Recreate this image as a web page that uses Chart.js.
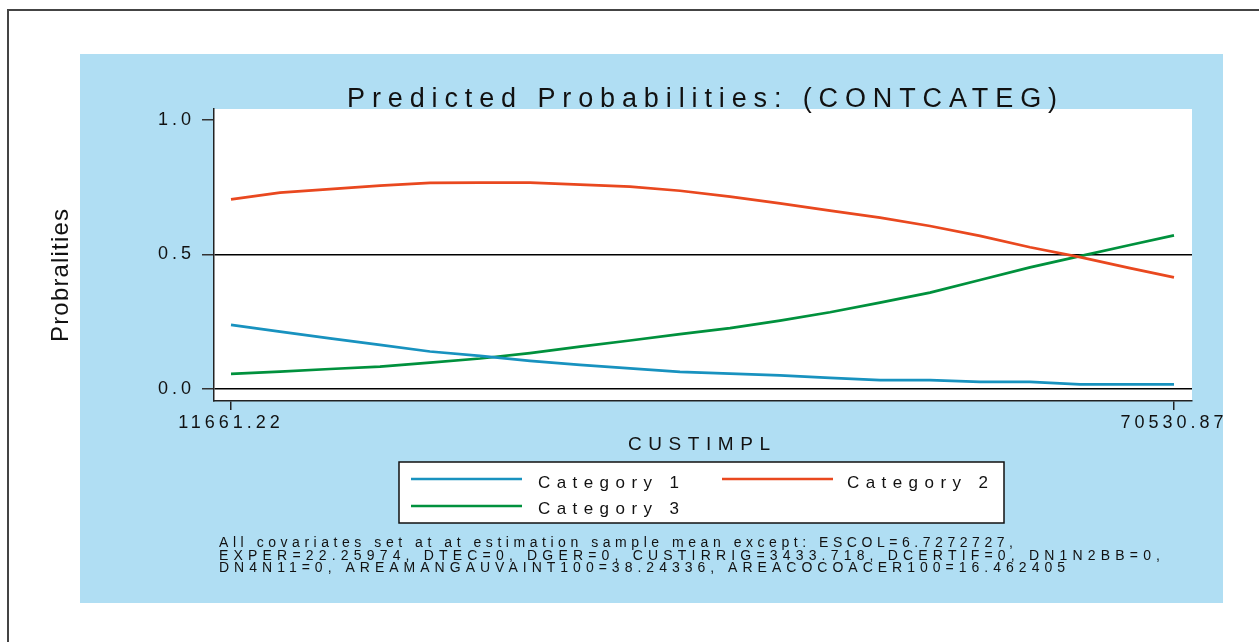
<!DOCTYPE html>
<html>
<head>
<meta charset="utf-8">
<script src="https://cdn.jsdelivr.net/npm/chart.js@4.4.1/dist/chart.umd.min.js"></script>
<style>
  html, body { margin: 0; padding: 0; background: #fff; overflow: hidden; }
</style>
</head>
<body>
<canvas id="chart" width="1259" height="642"></canvas>
<script>
// values
const custimpl = [11661.22, 14720, 17841, 20963, 24085, 27206, 30327, 33448, 36570, 39691,
                  42813, 45934, 49055, 52177, 55298, 58420, 61541, 64662, 67784, 70530.87];
const cat1 = [0.238, 0.213, 0.188, 0.164, 0.139, 0.123, 0.104, 0.089, 0.076, 0.063,
              0.057, 0.050, 0.041, 0.033, 0.033, 0.026, 0.026, 0.017, 0.017, 0.017];
const cat2 = [0.705, 0.730, 0.743, 0.756, 0.766, 0.767, 0.767, 0.760, 0.752, 0.737,
              0.715, 0.690, 0.663, 0.637, 0.606, 0.569, 0.527, 0.490, 0.449, 0.415];
const cat3 = [0.056, 0.064, 0.074, 0.083, 0.098, 0.113, 0.133, 0.157, 0.180, 0.204,
              0.226, 0.254, 0.285, 0.321, 0.358, 0.405, 0.452, 0.494, 0.535, 0.571];

const seriesNames = ["Category 1", "Category 2", "Category 3"];
const seriesColors = ["#1892bf", "#e9481f", "#00913d"];
const yTicks = [0, 0.5, 1];
const yTickLabels = ["0.0", "0.5", "1.0"];
const xTicks = [11661.22, 70530.87];
const xTickLabels = ["11661.22", "70530.87"];

const titleText = "Predicted Probabilities: (CONTCATEG)";
const xTitle = "CUSTIMPL";
const yTitle = "Probralities";
const noteLines = [
    "All covariates set at at estimation sample mean except: ESCOL=6.7272727,",
    "EXPER=22.25974, DTEC=0, DGER=0, CUSTIRRIG=3433.718, DCERTIF=0, DN1N2BB=0,",
    "DN4N11=0, AREAMANGAUVAINT100=38.24336, AREACOCOACER100=16.462405"
];

const NARROW = "'Liberation Sans Narrow', 'Liberation Sans', Arial, sans-serif";
const FONT = "'Liberation Sans', Arial, sans-serif";
const PANEL = "#b0def3";

// draw text stretched by letter spacing so it covers a given width
function spacedText(ctx, text, x, y, width) {
    ctx.letterSpacing = "0px";
    const w0 = ctx.measureText(text).width;
    const sp = (width - w0) / (text.length - 1);
    ctx.letterSpacing = sp + "px";
    ctx.textAlign = "left";
    ctx.fillText(text, x, y);
    ctx.letterSpacing = "0px";
}

const stataFrame = {
    id: "stataFrame",
    beforeDraw(chart) {
        const ctx = chart.ctx;
        const a = chart.chartArea;
        ctx.save();
        ctx.fillStyle = "#fff";
        ctx.fillRect(0, 0, chart.width, chart.height);
        ctx.strokeStyle = "#444";
        ctx.lineWidth = 2;
        ctx.strokeRect(8, 10, 1260, 640);
        ctx.fillStyle = PANEL;
        ctx.fillRect(80, 54, 1143, 549);
        ctx.fillStyle = "#fff";
        ctx.fillRect(a.left, a.top, a.right - a.left, a.bottom - a.top);
        ctx.restore();
        // tick labels in the spaced Stata look
        ctx.letterSpacing = "4px";
    },
    afterDraw(chart) {
        const ctx = chart.ctx;
        ctx.save();
        ctx.letterSpacing = "0px";
        ctx.fillStyle = "#111";
        ctx.textBaseline = "alphabetic";

        ctx.font = "27px " + NARROW;
        spacedText(ctx, titleText, 347, 107, 710);

        ctx.font = "19px " + FONT;
        spacedText(ctx, xTitle, 628, 450, 142);

        ctx.save();
        ctx.translate(68, 276);
        ctx.rotate(-Math.PI / 2);
        ctx.font = "24px " + FONT;
        spacedText(ctx, yTitle, -66, 0, 133);
        ctx.restore();

        // legend
        ctx.fillStyle = "#fff";
        ctx.fillRect(399, 462, 605, 61);
        ctx.strokeStyle = "#111";
        ctx.lineWidth = 1.5;
        ctx.strokeRect(399, 462, 605, 61);
        const items = [
            {lx: 411, ly: 479, tx: 538, ty: 488},
            {lx: 722, ly: 479, tx: 847, ty: 488},
            {lx: 411, ly: 506, tx: 538, ty: 514}
        ];
        ctx.font = "17px " + FONT;
        items.forEach((it, i) => {
            ctx.strokeStyle = seriesColors[i];
            ctx.lineWidth = 2.5;
            ctx.beginPath();
            ctx.moveTo(it.lx, it.ly);
            ctx.lineTo(it.lx + 111, it.ly);
            ctx.stroke();
            ctx.fillStyle = "#111";
            spacedText(ctx, seriesNames[i], it.tx, it.ty, 141);
        });

        // note
        ctx.font = "14px " + FONT;
        const noteW = [794, 941, 846];
        noteLines.forEach((t, i) => {
            spacedText(ctx, t, 219, 547 + i * 12.5, noteW[i]);
        });
        ctx.restore();
    }
};

const ctx = document.getElementById("chart");
new Chart(ctx, {
    type: "line",
    data: {
        datasets: [cat1, cat2, cat3].map((vals, i) => ({
            label: seriesNames[i],
            data: custimpl.map((x, j) => ({x: x, y: vals[j]})),
            borderColor: seriesColors[i],
            borderWidth: 2.7,
            pointRadius: 0,
            tension: 0,
            fill: false
        }))
    },
    options: {
        responsive: false,
        animation: false,
        devicePixelRatio: 1,
        layout: {padding: {left: 154, top: 109, right: 67, bottom: 201}},
        plugins: {legend: {display: false}, title: {display: false}, tooltip: {enabled: false}},
        scales: {
            x: {
                type: "linear",
                min: 10600,
                max: 71655,
                afterFit: s => { s.height = 40; },
                afterBuildTicks: s => { s.ticks = xTicks.map(v => ({value: v})); },
                ticks: {
                    callback: (v, i) => xTickLabels[i],
                    font: {size: 18, family: FONT},
                    color: "#111",
                    padding: 2,
                    maxRotation: 0,
                    autoSkip: false
                },
                grid: {drawOnChartArea: false, tickLength: 9, tickColor: "#222", lineWidth: 1.5},
                border: {color: "#222", width: 1.5}
            },
            y: {
                min: -0.045,
                max: 1.041,
                afterFit: s => { s.width = 60; },
                afterBuildTicks: s => { s.ticks = yTicks.map(v => ({value: v})); },
                ticks: {
                    callback: (v, i) => yTickLabels[i],
                    font: {size: 18, family: FONT},
                    color: "#111",
                    padding: 7
                },
                grid: {
                    color: c => (c.tick && c.tick.value === 1) ? "rgba(0,0,0,0)" : "#000",
                    tickColor: "#333",
                    tickLength: 12,
                    lineWidth: 1.5
                },
                border: {color: "#222", width: 1.5}
            }
        }
    },
    plugins: [stataFrame]
});
</script>
</body>
</html>
